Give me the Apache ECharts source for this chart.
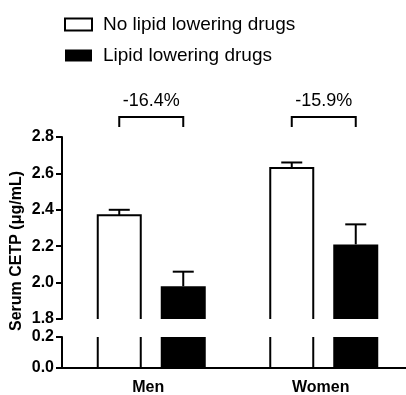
<!DOCTYPE html>
<html>
<head>
<meta charset="utf-8">
<script src="https://cdn.jsdelivr.net/npm/echarts@6/dist/echarts.min.js"></script>
<style>html,body{margin:0;padding:0;background:#fff}#c{width:406px;height:395px}</style>
</head>
<body>
<div id="c"></div>
<script>
const categories = ['Men', 'Women'];
const noDrugs = [2.37, 2.63];
const noDrugsErr = [0.03, 0.03];
const drugs = [1.98, 2.21];
const drugsErr = [0.08, 0.11];
const changeLabels = ['-16.4%', '-15.9%'];
const upperAxis = { min: 1.8, max: 2.8, interval: 0.2 };
const lowerAxis = { min: 0, max: 0.2, interval: 0.2 };
const seriesNames = ['No lipid lowering drugs', 'Lipid lowering drugs'];

const FONT = '"Liberation Sans", Arial, sans-serif';
const OFF_WHITE = -29, OFF_BLACK = 35, HALF = 22.5, CAP = 10.5, LW = 2;

function errBar(cx, yTop, yCap) {
  return [
    { type: 'line', shape: { x1: cx, y1: yTop, x2: cx, y2: yCap }, style: { stroke: '#000', lineWidth: LW } },
    { type: 'line', shape: { x1: cx - CAP, y1: yCap, x2: cx + CAP, y2: yCap }, style: { stroke: '#000', lineWidth: LW } }
  ];
}

function upperRender(filled) {
  return function (params, api) {
    const idx = api.value(0), v = api.value(1), e = api.value(2);
    const top = api.coord([idx, v]);
    const base = api.coord([idx, upperAxis.min]);
    const cap = api.coord([idx, v + e]);
    const cx = top[0] + (filled ? OFF_BLACK : OFF_WHITE);
    const children = [];
    if (filled) {
      children.push({ type: 'rect', shape: { x: cx - HALF, y: top[1], width: HALF * 2, height: base[1] - top[1] }, style: { fill: '#000' } });
    } else {
      children.push({ type: 'polyline', shape: { points: [[cx - HALF + 1, base[1]], [cx - HALF + 1, top[1]], [cx + HALF - 1, top[1]], [cx + HALF - 1, base[1]]] }, style: { stroke: '#000', fill: null, lineWidth: LW } });
    }
    return { type: 'group', children: children.concat(errBar(cx, top[1], cap[1])) };
  };
}

function lowerRender(filled) {
  return function (params, api) {
    const idx = api.value(0), v = Math.min(api.value(1), lowerAxis.max);
    const top = api.coord([idx, v]);
    const base = api.coord([idx, 0]);
    const cx = top[0] + (filled ? OFF_BLACK : OFF_WHITE);
    if (filled) {
      return { type: 'rect', shape: { x: cx - HALF, y: top[1], width: HALF * 2, height: base[1] - top[1] }, style: { fill: '#000' } };
    }
    return { type: 'group', children: [
      { type: 'line', shape: { x1: cx - HALF + 1, y1: top[1], x2: cx - HALF + 1, y2: base[1] }, style: { stroke: '#000', lineWidth: LW } },
      { type: 'line', shape: { x1: cx + HALF - 1, y1: top[1], x2: cx + HALF - 1, y2: base[1] }, style: { stroke: '#000', lineWidth: LW } }
    ] };
  };
}

function bracketRender(params, api) {
  const idx = api.value(0);
  const p = api.coord([idx, upperAxis.max]);
  const x1 = p[0] + OFF_WHITE, x2 = p[0] + OFF_BLACK;
  const yH = p[1] - 20, yL = p[1] - 10;
  return { type: 'group', children: [
    { type: 'polyline', shape: { points: [[x1, yL], [x1, yH], [x2, yH], [x2, yL]] }, style: { stroke: '#000', fill: null, lineWidth: LW } },
    { type: 'text', x: (x1 + x2) / 2, y: p[1] - 36, style: { text: changeLabels[idx], fill: '#000', font: '18px ' + FONT, align: 'center', verticalAlign: 'middle' } }
  ] };
}

const yAxisCommon = {
  type: 'value',
  axisLine: { show: true, lineStyle: { color: '#000', width: 2 } },
  axisTick: { show: true, length: 6, lineStyle: { color: '#000', width: 2 } },
  splitLine: { show: false },
  axisLabel: { color: '#000', fontFamily: FONT, fontWeight: 'bold', fontSize: 16, margin: 8, formatter: v => v.toFixed(1) }
};

const chart = echarts.init(document.getElementById('c'), null, { renderer: 'canvas' });
chart.setOption({
  animation: false,
  backgroundColor: '#fff',
  legend: {
    orient: 'vertical', left: 64, top: 15, padding: 0,
    itemWidth: 27, itemHeight: 12, itemGap: 12,
    selectedMode: false,
    textStyle: { color: '#000', fontFamily: FONT, fontSize: 19, padding: [0, 0, 0, 6] },
    data: [
      { name: seriesNames[0], icon: 'rect', itemStyle: { color: '#fff', borderColor: '#000', borderWidth: 2 } },
      { name: seriesNames[1], icon: 'rect', itemStyle: { color: '#000', borderColor: '#000', borderWidth: 0 } }
    ]
  },
  grid: [
    { left: 62, top: 137, width: 345, height: 182, containLabel: false, outerBoundsMode: 'none' },
    { left: 62, top: 337, width: 345, height: 31, containLabel: false, outerBoundsMode: 'none' }
  ],
  xAxis: [
    { type: 'category', gridIndex: 0, data: categories, show: false },
    { type: 'category', gridIndex: 1, data: categories,
      axisLine: { show: true, lineStyle: { color: '#000', width: 2 } },
      axisTick: { show: false },
      axisLabel: { color: '#000', fontFamily: FONT, fontWeight: 'bold', fontSize: 16, margin: 12 } }
  ],
  yAxis: [
    Object.assign({}, yAxisCommon, { gridIndex: 0, min: upperAxis.min, max: upperAxis.max, interval: upperAxis.interval }),
    Object.assign({}, yAxisCommon, { gridIndex: 1, min: lowerAxis.min, max: lowerAxis.max, interval: lowerAxis.interval })
  ],
  graphic: [{
    type: 'text', x: 17, y: 251, rotation: Math.PI / 2,
    style: { text: 'Serum CETP (μg/mL)', fill: '#000', font: 'bold 16px ' + FONT, align: 'center', verticalAlign: 'middle' }
  }],
  series: [
    { name: seriesNames[0], type: 'custom', xAxisIndex: 0, yAxisIndex: 0, clip: false,
      renderItem: upperRender(false), data: categories.map((c, i) => [i, noDrugs[i], noDrugsErr[i]]) },
    { name: seriesNames[1], type: 'custom', xAxisIndex: 0, yAxisIndex: 0, clip: false,
      renderItem: upperRender(true), data: categories.map((c, i) => [i, drugs[i], drugsErr[i]]) },
    { name: seriesNames[0], type: 'custom', xAxisIndex: 1, yAxisIndex: 1, clip: false,
      renderItem: lowerRender(false), data: categories.map((c, i) => [i, noDrugs[i]]) },
    { name: seriesNames[1], type: 'custom', xAxisIndex: 1, yAxisIndex: 1, clip: false,
      renderItem: lowerRender(true), data: categories.map((c, i) => [i, drugs[i]]) },
    { name: 'change', type: 'custom', xAxisIndex: 0, yAxisIndex: 0, clip: false,
      renderItem: bracketRender, data: categories.map((c, i) => [i]) }
  ]
});
</script>
</body>
</html>
